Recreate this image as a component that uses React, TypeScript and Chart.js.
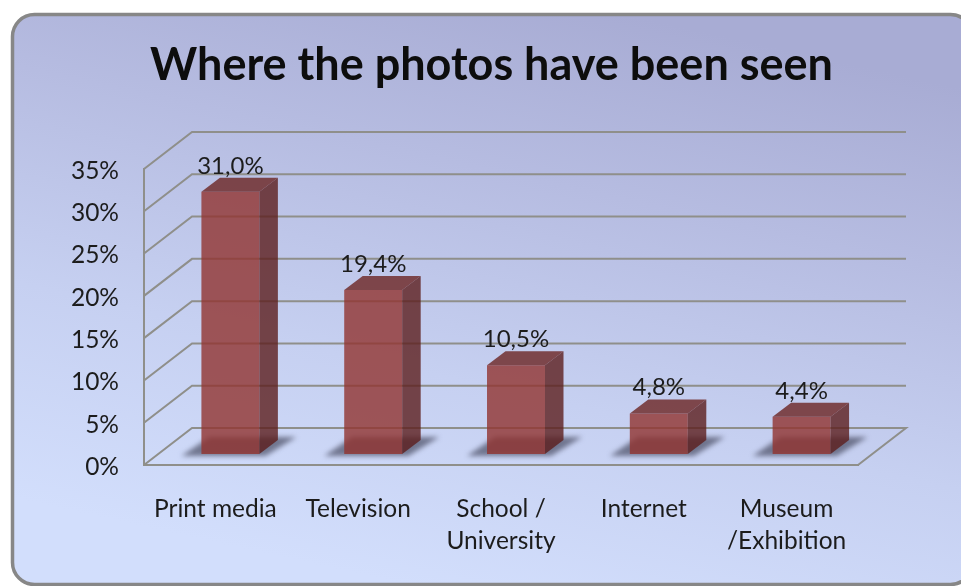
import React, { useEffect, useRef } from "react";
import { Chart, registerables } from "chart.js";

Chart.register(...registerables);

const categories: (string | string[])[] = [
  "Print media",
  "Television",
  ["School /", "University"],
  "Internet",
  ["Museum", "/Exhibition"],
];
const seriesValues = [31.0, 19.4, 10.5, 4.8, 4.4];
const titleText = "Where the photos have been seen";

const FONT = "Lato, 'Open Sans', sans-serif";
const WALL = { dx: 48, dy: -37 };
const BAR_SHIFT = { dx: 15, dy: -11 };
const BAR_DEPTH = { dx: 18.5, dy: -14 };
const GRID = "#8f8f8a";

const fmt = (v: number) => v.toFixed(1).replace(".", ",") + "%";

const scenePlugin = {
  id: "scene",
  beforeDraw(chart: any) {
    const c = chart.ctx as CanvasRenderingContext2D;
    c.save();
    const g = c.createLinearGradient(430, 590, 560, 0);
    g.addColorStop(0, "#d2defc");
    g.addColorStop(0.35, "#c6d0f1");
    g.addColorStop(0.7, "#b6bce1");
    g.addColorStop(1, "#a8acd4");
    c.beginPath();
    c.roundRect(12.5, 14.5, 960, 570, 22);
    c.fillStyle = g;
    c.fill();
    c.lineWidth = 3.5;
    c.strokeStyle = "#878787";
    c.stroke();
    c.restore();
  },
  beforeDatasetsDraw(chart: any) {
    const c = chart.ctx as CanvasRenderingContext2D;
    const { x, y } = chart.scales;
    const left = x.left;
    const right = x.right;
    c.save();
    c.strokeStyle = GRID;
    c.lineWidth = 2;
    y.ticks.forEach((t: any) => {
      const py = y.getPixelForValue(t.value);
      c.beginPath();
      c.moveTo(left, py);
      c.lineTo(left + WALL.dx, py + WALL.dy);
      c.lineTo(right + WALL.dx, py + WALL.dy);
      if (t.value === 0) {
        c.lineTo(right, py);
      }
      c.stroke();
    });
    // soft shadows that the bars throw on the floor
    const els = chart.getDatasetMeta(0).data;
    c.filter = "blur(2.5px)";
    c.fillStyle = "rgba(70,72,95,0.68)";
    els.forEach((el: any) => {
      const l = el.x - el.width / 2 + BAR_SHIFT.dx;
      const r = el.x + el.width / 2 + BAR_SHIFT.dx;
      const b = el.base + BAR_SHIFT.dy;
      c.beginPath();
      c.moveTo(l - 20, b + 2);
      c.lineTo(r + 6, b + 2);
      c.lineTo(r + 37, b - 17);
      c.lineTo(l + 8, b - 17);
      c.closePath();
      c.fill();
    });
    c.restore();
  },
  beforeDatasetDraw(chart: any) {
    chart.ctx.save();
    chart.ctx.translate(BAR_SHIFT.dx, BAR_SHIFT.dy);
  },
  afterDatasetDraw(chart: any) {
    chart.ctx.restore();
  },
  afterDatasetsDraw(chart: any) {
    const c = chart.ctx as CanvasRenderingContext2D;
    const els = chart.getDatasetMeta(0).data;
    c.save();
    els.forEach((el: any, i: number) => {
      const l = el.x - el.width / 2 + BAR_SHIFT.dx;
      const r = el.x + el.width / 2 + BAR_SHIFT.dx;
      const t = el.y + BAR_SHIFT.dy;
      const b = el.base + BAR_SHIFT.dy;
      c.fillStyle = "rgba(93,30,29,0.8)";
      c.beginPath();
      c.moveTo(r, t);
      c.lineTo(r + BAR_DEPTH.dx, t + BAR_DEPTH.dy);
      c.lineTo(r + BAR_DEPTH.dx, b + BAR_DEPTH.dy);
      c.lineTo(r, b);
      c.closePath();
      c.fill();
      c.fillStyle = "rgba(108,36,34,0.8)";
      c.beginPath();
      c.moveTo(l, t);
      c.lineTo(l + BAR_DEPTH.dx, t + BAR_DEPTH.dy);
      c.lineTo(r + BAR_DEPTH.dx, t + BAR_DEPTH.dy);
      c.lineTo(r, t);
      c.closePath();
      c.fill();
      c.fillStyle = "#1c1c1c";
      c.font = `24px ${FONT}`;
      c.textAlign = "center";
      c.textBaseline = "middle";
      c.fillText(fmt(seriesValues[i]), (l + r) / 2, t - 26);
    });
    c.restore();
  },
};

export default function App() {
  const ref = useRef<HTMLCanvasElement | null>(null);
  useEffect(() => {
    if (!ref.current) return;
    const chart = new Chart(ref.current, {
      type: "bar",
      data: {
        labels: categories as any,
        datasets: [
          {
            data: seriesValues,
            backgroundColor: "rgba(145,51,47,0.8)",
            borderWidth: 0,
            barPercentage: 0.406,
            categoryPercentage: 1,
          },
        ],
      },
      options: {
        responsive: false,
        animation: false,
        devicePixelRatio: 1,
        layout: { padding: { left: 22, right: 0, top: 0, bottom: 0 } },
        plugins: {
          legend: { display: false },
          tooltip: { enabled: false },
          title: {
            display: true,
            text: titleText,
            color: "#0d0d0d",
            font: { family: FONT, size: 45, weight: "bold", lineHeight: 1.2 },
            padding: { top: 38, bottom: 77 },
          },
        },
        scales: {
          x: {
            offset: true,
            grid: { display: false, drawTicks: false },
            border: { display: true, color: GRID, width: 2 },
            ticks: {
              color: "#1c1c1c",
              padding: 28,
              maxRotation: 0,
              autoSkip: false,
              font: { family: FONT, size: 24.5, lineHeight: 1.31 },
            },
            afterFit: (s: any) => {
              s.height = 121;
            },
          },
          y: {
            min: 0,
            max: 35,
            grid: { display: false, drawTicks: false },
            border: { display: true, color: GRID, width: 2 },
            ticks: {
              stepSize: 5,
              color: "#1c1c1c",
              padding: 25,
              font: { family: FONT, size: 24.5 },
              callback: (v: any) => `${v}%`,
            },
            afterFit: (s: any) => {
              s.width = 122;
              if (!s.__shifted) {
                s.__shifted = true;
                const draw = s.drawLabels;
                s.drawLabels = function (area: any) {
                  s.ctx.save();
                  s.ctx.translate(0, 2);
                  draw.call(s, area);
                  s.ctx.restore();
                };
              }
            },
          },
          yRight: {
            position: "right",
            display: true,
            grid: { display: false, drawTicks: false },
            border: { display: false },
            ticks: { display: false },
            afterFit: (s: any) => {
              s.width = 103;
            },
          },
        },
      } as any,
      plugins: [scenePlugin as any],
    });
    return () => chart.destroy();
  }, []);
  return (
    <canvas
      ref={ref}
      width={961}
      height={586}
      style={{ position: "fixed", left: 0, top: 0, display: "block" }}
    />
  );
}
